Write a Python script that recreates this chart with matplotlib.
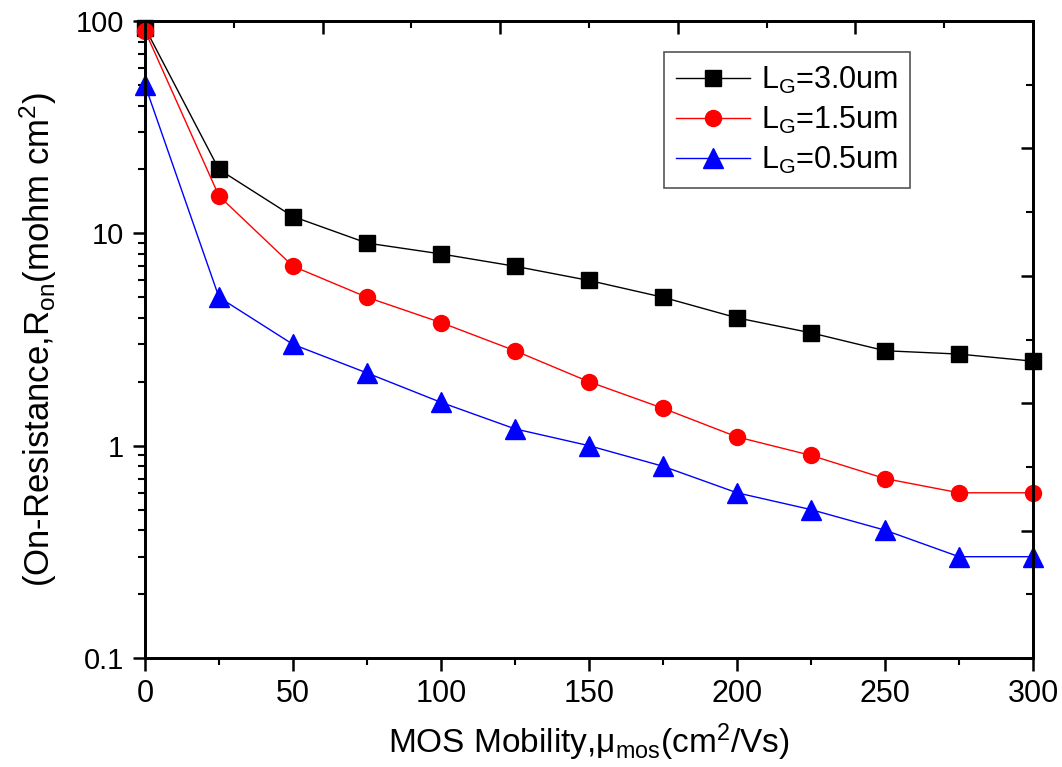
import numpy as np
import matplotlib
matplotlib.use('Agg')
import matplotlib.pyplot as plt
from matplotlib.ticker import MultipleLocator, LogLocator, NullFormatter, FixedFormatter

# dados
mobility = [0, 25, 50, 75, 100, 125, 150, 175, 200, 225, 250, 275, 300]
ron_3_0 = [93, 20, 12, 9, 8, 7, 6, 5, 4, 3.4, 2.8, 2.7, 2.5]
ron_1_5 = [90, 15, 7, 5, 3.8, 2.8, 2.0, 1.5, 1.1, 0.9, 0.7, 0.6, 0.6]
ron_0_5 = [50, 5, 3, 2.2, 1.6, 1.2, 1.0, 0.8, 0.6, 0.5, 0.4, 0.3, 0.3]
labels = ['L$_G$=3.0um', 'L$_G$=1.5um', 'L$_G$=0.5um']

plt.rcParams['font.family'] = ['Liberation Sans', 'DejaVu Sans']
plt.rcParams['mathtext.default'] = 'regular'

fig = plt.figure(figsize=(10.62, 7.67), dpi=100)
ax = fig.add_axes([0.1365, 0.1421, 0.8362, 0.8305])

ax.plot(mobility, ron_3_0, 'k-', lw=1, marker='s', ms=11, label=labels[0], clip_on=False, zorder=5)
ax.plot(mobility, ron_1_5, '-', color='red', lw=1, marker='o', ms=11.5, label=labels[1], clip_on=False, zorder=5)
ax.plot(mobility, ron_0_5, '-', color='blue', lw=1, marker='^', ms=14, label=labels[2], clip_on=False, zorder=5)

ax.set_xlim(0, 300)
ax.set_yscale('log')
ax.set_ylim(0.1, 100)
ax.xaxis.set_major_locator(MultipleLocator(50))
ax.xaxis.set_minor_locator(MultipleLocator(25))
ax.set_yticks([0.1, 1, 10, 100])
ax.yaxis.set_major_formatter(FixedFormatter(['0.1', '1', '10', '100']))
ax.yaxis.set_minor_locator(LogLocator(base=10, subs=np.arange(2, 10), numticks=10))
ax.yaxis.set_minor_formatter(NullFormatter())

ax.tick_params(which='major', direction='out', length=9, width=1.8, labelsize=21, pad=6)
ax.tick_params(axis='x', which='major', labelsize=22)
ax.tick_params(which='minor', direction='out', length=5, width=1.5)
for s in ax.spines.values():
    s.set_linewidth(1.8)

ax.set_xlabel('MOS Mobility,μ$_{mos}$(cm$^2$/Vs)', fontsize=24, labelpad=9)
ax.set_ylabel('(On-Resistance,R$_{on}$(mohm cm$^2$)', fontsize=25, labelpad=12)

# eixos secundarios (so marcacoes, como no Origin)
axr = ax.twinx()
axr.set_ylim(0, 1)
axr.yaxis.set_major_locator(MultipleLocator(0.2))
axr.yaxis.set_minor_locator(MultipleLocator(0.1))
axr.tick_params(which='major', direction='in', length=9, width=1.8, labelright=False)
axr.tick_params(which='minor', direction='in', length=5, width=1.5)

axt = ax.twiny()
axt.set_xlim(0, 1)
axt.xaxis.set_major_locator(MultipleLocator(0.2))
axt.xaxis.set_minor_locator(MultipleLocator(0.1))
axt.tick_params(which='major', direction='in', length=9, width=1.8, labeltop=False)
axt.tick_params(which='minor', direction='in', length=5, width=1.5)
for a in (axr, axt):
    for s in a.spines.values():
        s.set_linewidth(1.8)

leg = ax.legend(loc='upper right', bbox_to_anchor=(0.8615, 0.951), fontsize=22,
                fancybox=False, edgecolor='#555555', framealpha=1,
                handlelength=2.4, handletextpad=0.35, labelspacing=0.3, borderpad=0.4,
                borderaxespad=0)
leg.get_frame().set_linewidth(1.2)
leg.set_zorder(10)

fig.savefig('out.png', dpi=100)
